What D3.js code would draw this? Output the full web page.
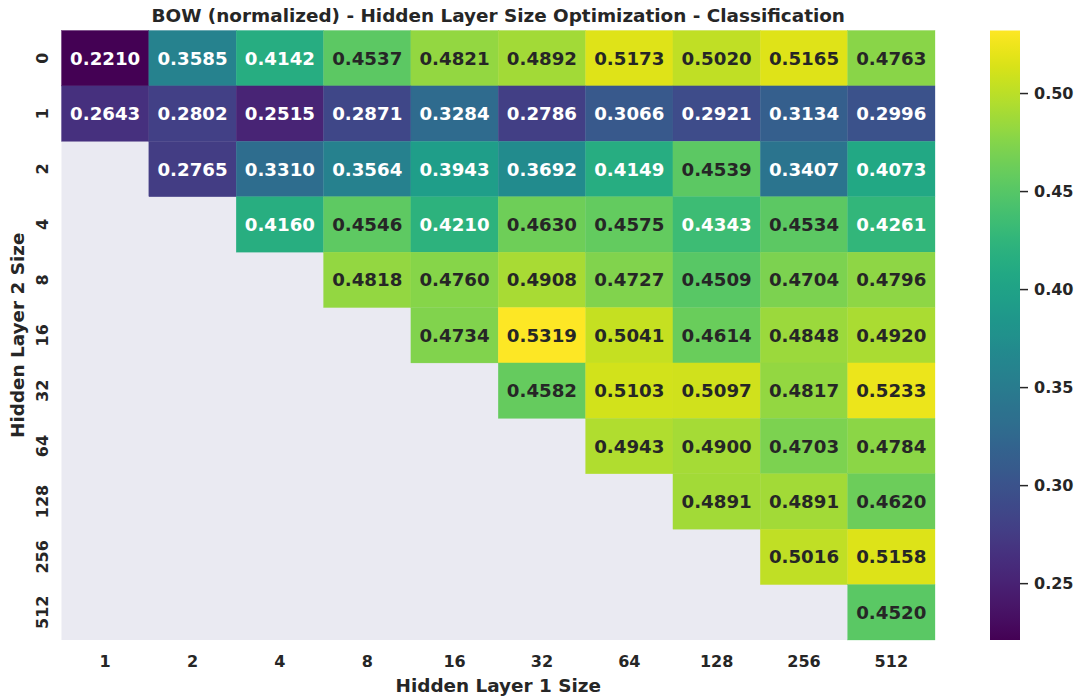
<!DOCTYPE html>
<html>
<head>
<meta charset="utf-8">
<script src="https://cdn.jsdelivr.net/npm/d3@7"></script>
<style>
  html, body { margin: 0; padding: 0; background: #ffffff; }
  svg text { font-family: "DejaVu Sans", sans-serif; font-weight: bold; fill: #262626; }
</style>
</head>
<body>
<svg id="chart" width="1081" height="698"></svg>
<script>
// Hidden layer sizes on each axis
const layer1Sizes = ["1", "2", "4", "8", "16", "32", "64", "128", "256", "512"];
const layer2Sizes = ["0", "1", "2", "4", "8", "16", "32", "64", "128", "256", "512"];

// Classification score per (layer 2 row, layer 1 column); null = combination not run
const row0   = [0.2210, 0.3585, 0.4142, 0.4537, 0.4821, 0.4892, 0.5173, 0.5020, 0.5165, 0.4763];
const row1   = [0.2643, 0.2802, 0.2515, 0.2871, 0.3284, 0.2786, 0.3066, 0.2921, 0.3134, 0.2996];
const row2   = [null, 0.2765, 0.3310, 0.3564, 0.3943, 0.3692, 0.4149, 0.4539, 0.3407, 0.4073];
const row4   = [null, null, 0.4160, 0.4546, 0.4210, 0.4630, 0.4575, 0.4343, 0.4534, 0.4261];
const row8   = [null, null, null, 0.4818, 0.4760, 0.4908, 0.4727, 0.4509, 0.4704, 0.4796];
const row16  = [null, null, null, null, 0.4734, 0.5319, 0.5041, 0.4614, 0.4848, 0.4920];
const row32  = [null, null, null, null, null, 0.4582, 0.5103, 0.5097, 0.4817, 0.5233];
const row64  = [null, null, null, null, null, null, 0.4943, 0.4900, 0.4703, 0.4784];
const row128 = [null, null, null, null, null, null, null, 0.4891, 0.4891, 0.4620];
const row256 = [null, null, null, null, null, null, null, null, 0.5016, 0.5158];
const row512 = [null, null, null, null, null, null, null, null, null, 0.4520];

const colorbarTicks = [0.25, 0.30, 0.35, 0.40, 0.45, 0.50];

const rows = [row0, row1, row2, row4, row8, row16, row32, row64, row128, row256, row512];

const cells = [];
rows.forEach((r, i) => r.forEach((v, j) => {
  if (v !== null) cells.push({ row: layer2Sizes[i], col: layer1Sizes[j], value: v });
}));

const svg = d3.select("#chart");
const plot = { left: 61.5, right: 935, top: 30.5, bottom: 640 };

const x = d3.scaleBand().domain(layer1Sizes).range([plot.left, plot.right]);
const y = d3.scaleBand().domain(layer2Sizes).range([plot.top, plot.bottom]);

const allVals = cells.map(d => d.value);
const vmin = d3.min(allVals), vmax = d3.max(allVals);
const color = d3.scaleSequential(d3.interpolateViridis).domain([vmin, vmax]);

// Relative luminance decides annotation colour (light text on dark cells)
function luminance(c) {
  const rgb = d3.rgb(c);
  const lin = v => { v /= 255; return v <= 0.03928 ? v / 12.92 : Math.pow((v + 0.055) / 1.055, 2.4); };
  return 0.2126 * lin(rgb.r) + 0.7152 * lin(rgb.g) + 0.0722 * lin(rgb.b);
}

// Missing-value background
svg.append("rect")
  .attr("x", plot.left).attr("y", plot.top)
  .attr("width", plot.right - plot.left).attr("height", plot.bottom - plot.top)
  .attr("fill", "#eaeaf2");

const g = svg.append("g");
g.selectAll("rect.cell").data(cells).join("rect")
  .attr("class", "cell")
  .attr("x", d => x(d.col)).attr("y", d => y(d.row))
  .attr("width", x.bandwidth()).attr("height", y.bandwidth())
  .attr("fill", d => color(d.value))
  .attr("stroke", d => color(d.value)).attr("stroke-width", 0.3);

g.selectAll("text.annot").data(cells).join("text")
  .attr("class", "annot")
  .attr("x", d => x(d.col) + x.bandwidth() / 2)
  .attr("y", d => y(d.row) + y.bandwidth() / 2)
  .attr("text-anchor", "middle").attr("dominant-baseline", "central")
  .style("font-size", "18.2px")
  .style("fill", d => luminance(color(d.value)) > 0.408 ? "#262626" : "#ffffff")
  .text(d => d.value.toFixed(4));

// X axis
const xAxis = svg.append("g")
  .attr("transform", `translate(0,${plot.bottom})`)
  .call(d3.axisBottom(x).tickSize(0).tickPadding(16));
xAxis.select(".domain").remove();
xAxis.selectAll("text").style("font-size", "16px").attr("fill", "#262626");

// Y axis with rotated labels
const yAxis = svg.append("g")
  .attr("transform", `translate(${plot.left},0)`)
  .call(d3.axisLeft(y).tickSize(0));
yAxis.select(".domain").remove();
yAxis.selectAll("text")
  .attr("x", null).attr("dy", null)
  .attr("text-anchor", "middle")
  .attr("transform", "translate(-19.5,0) rotate(-90)")
  .attr("dominant-baseline", "central")
  .style("font-size", "16px").attr("fill", "#262626");

// Title and axis labels
svg.append("text")
  .attr("x", (plot.left + plot.right) / 2).attr("y", 22)
  .attr("text-anchor", "middle").style("font-size", "18.4px")
  .text("BOW (normalized) - Hidden Layer Size Optimization - Classification");

svg.append("text")
  .attr("x", (plot.left + plot.right) / 2).attr("y", 692)
  .attr("text-anchor", "middle").style("font-size", "18.4px")
  .text("Hidden Layer 1 Size");

svg.append("text")
  .attr("transform", `translate(24,${(plot.top + plot.bottom) / 2}) rotate(-90)`)
  .attr("text-anchor", "middle").style("font-size", "18.4px")
  .text("Hidden Layer 2 Size");

// Colorbar
const cb = { x: 990, w: 30 };
const cbScale = d3.scaleLinear().domain([vmin, vmax]).range([plot.bottom, plot.top]);
const defs = svg.append("defs");
const grad = defs.append("linearGradient").attr("id", "cbgrad")
  .attr("x1", "0").attr("y1", "1").attr("x2", "0").attr("y2", "0");
d3.range(0, 1.0001, 0.02).forEach(t => {
  grad.append("stop").attr("offset", t).attr("stop-color", d3.interpolateViridis(t));
});
svg.append("rect")
  .attr("x", cb.x).attr("y", plot.top)
  .attr("width", cb.w).attr("height", plot.bottom - plot.top)
  .attr("fill", "url(#cbgrad)");

const cbAxis = svg.append("g")
  .attr("transform", `translate(${cb.x + cb.w},0)`)
  .call(d3.axisRight(cbScale).tickValues(colorbarTicks).tickFormat(d3.format(".2f")).tickSize(8).tickPadding(6));
cbAxis.select(".domain").remove();
cbAxis.selectAll("line").attr("stroke", "#262626").attr("stroke-width", 1.5);
cbAxis.selectAll("text").style("font-size", "16px").attr("fill", "#262626");
</script>
</body>
</html>
